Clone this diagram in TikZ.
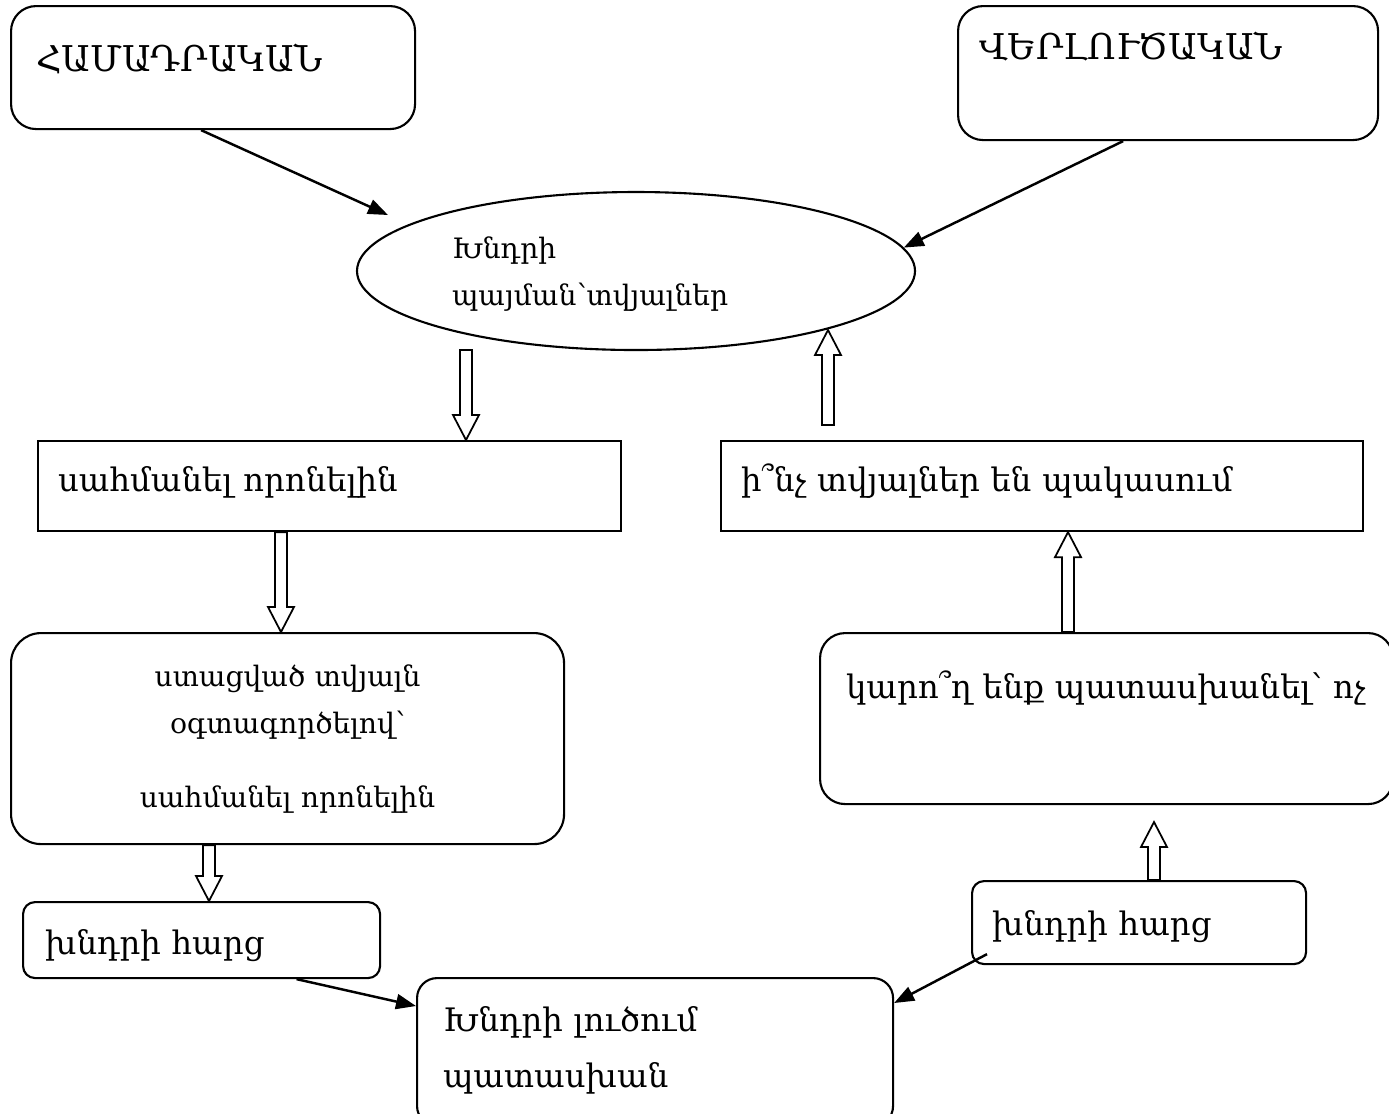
\documentclass[tikz,border=0pt]{standalone}
\usepackage{fontspec}
\setmainfont{DejaVu Serif}
\usetikzlibrary{shapes.geometric}
\usetikzlibrary{arrows.meta}
\usetikzlibrary{calc}

\tikzset{
  box/.style={draw, line width=0.6pt, anchor=north west, inner ysep=0pt, align=left},
  oval/.style={draw, ellipse, line width=0.6pt, inner sep=0pt, align=left},
  link/.style={->, >={Triangle[length=2mm,width=1.5mm]}, line width=0.7pt},
  fat/.style={draw, line width=0.5pt, fill=white},
  big/.style={font=\fontsize{9.2}{16}\selectfont},
  caps/.style={font=\fontsize{10.1}{16}\selectfont},
  small/.style={font=\fontsize{8}{13.4}\selectfont}
}

\newcommand{\fatarrow}[2]{%
  \draw[fat] let \p1=(#1), \p2=(#2), \n1={sign(\y2-\y1)} in
    ({\x1-0.06cm},\y1) -- ({\x1-0.06cm},{\y2-(\n1)*0.25cm})
    -- ({\x1-0.13cm},{\y2-(\n1)*0.25cm}) -- (\x1,\y2)
    -- ({\x1+0.13cm},{\y2-(\n1)*0.25cm}) -- ({\x1+0.06cm},{\y2-(\n1)*0.25cm})
    -- ({\x1+0.06cm},\y1) -- cycle;}

\begin{document}
\begin{tikzpicture}
  \useasboundingbox (0,0) rectangle (13.89,-11.13);

  \node[box, caps, rounded corners=0.25cm, inner xsep=0.25cm, text width=3.54cm,
    text height=0.65cm, text depth=0.58cm] (A) at (0.10,-0.05) {ՀԱՄԱԴՐԱԿԱՆ};
  \node[box, caps, rounded corners=0.25cm, inner xsep=0.21cm, text width=3.78cm,
    text height=0.53cm, text depth=0.81cm] (B) at (9.57,-0.05) {ՎԵՐԼՈՒԾԱԿԱՆ};
  \node[oval, small, minimum width=5.58cm, minimum height=1.58cm, text width=3.68cm,
    text height=0.25cm, text depth=0.51cm] (ell) at (6.36,-2.71) {Խնդրի\\պայման՝տվյալներ};

  \node[box, big, inner xsep=0.20cm, text width=5.43cm,
    text height=0.50cm, text depth=0.40cm] (C) at (0.37,-4.40) {սահմանել որոնելին};
  \node[box, big, inner xsep=0.20cm, text width=6.02cm,
    text height=0.50cm, text depth=0.40cm] (D) at (7.20,-4.40) {ի՞նչ տվյալներ են պակասում};

  \node[box, small, align=center, rounded corners=0.3cm, inner xsep=0.10cm, text width=5.33cm,
    text height=0.53cm, text depth=1.58cm] (E) at (0.10,-6.32)
    {ստացված տվյալն\\օգտագործելով՝\\[0.27cm]սահմանել որոնելին};
  \node[box, big, rounded corners=0.25cm, inner xsep=0.26cm, text width=5.21cm,
    text height=0.65cm, text depth=1.06cm] (F) at (8.19,-6.32) {\mbox{կարո՞ղ ենք պատասխանել՝ ոչ}};

  \node[box, big, rounded corners=0.12cm, inner xsep=0.20cm, text width=2.94cm,
    text height=0.54cm, text depth=0.29cm] (G) at (9.71,-8.80) {խնդրի հարց};
  \node[box, big, rounded corners=0.12cm, inner xsep=0.22cm, text width=3.13cm,
    text height=0.52cm, text depth=0.24cm] (H) at (0.22,-9.01) {խնդրի հարց};
  \node[box, big, rounded corners=0.2cm, inner xsep=0.26cm, text width=4.24cm,
    text height=0.53cm, text depth=0.95cm] (I) at (4.16,-9.77) {Խնդրի լուծում\\պատասխան};

  \coordinate (inA) at (3.88,-2.15);
  \coordinate (dE) at (8.28,-4.25);
  \coordinate (eD) at (8.28,-3.30);
  \coordinate (eC) at (4.66,-3.50);
  \coordinate (gF) at (11.54,-8.22);
  \coordinate (cx) at (2.81,0);
  \coordinate (fx) at (10.68,0);
  \coordinate (hx) at (2.09,0);
  \coordinate (gx) at (11.54,0);

  \draw[link] ([xshift=-0.12cm]A.south) -- (inA);
  \draw[link] ([xshift=-0.45cm]B.south) -- (ell.5);
  \draw[link] ([xshift=0.95cm]H.south) -- ([yshift=-0.29cm]I.north west);
  \draw[link] ([shift={(0.16,0.11)}]G.south west) -- ([yshift=-0.26cm]I.north east);

  \fatarrow{eC}{eC |- C.north}
  \fatarrow{dE}{eD}
  \fatarrow{C.south -| cx}{E.north -| cx}
  \fatarrow{F.north -| fx}{D.south -| fx}
  \fatarrow{E.south -| hx}{H.north -| hx}
  \fatarrow{G.north -| gx}{gF}
\end{tikzpicture}
\end{document}
